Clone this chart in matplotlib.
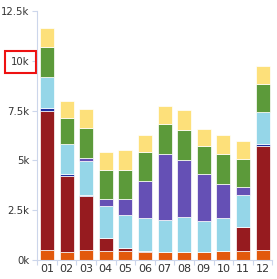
import numpy as np
import matplotlib
matplotlib.use('Agg')
import matplotlib.pyplot as plt

months = ['01', '02', '03', '04', '05', '06', '07', '08', '09', '10', '11', '12']

# stacked series, bottom to top (values in units)
orange = [500, 390, 490, 440, 450, 400, 390, 390, 390, 450, 450, 490]
darkred = [6990, 3850, 2710, 650, 150, 70, 0, 0, 0, 0, 1190, 5240]
navy = [160, 100, 70, 0, 0, 0, 0, 0, 0, 0, 0, 110]
lightblue = [1530, 1490, 1720, 1610, 1660, 1660, 1600, 1760, 1550, 1650, 1630, 1580]
purple = [0, 0, 150, 370, 810, 1830, 3340, 2880, 2400, 1720, 410, 0]
green = [1510, 1320, 1510, 1450, 1470, 1450, 1490, 1490, 1400, 1520, 1380, 1440]
yellow = [950, 850, 950, 890, 1000, 890, 910, 1000, 860, 940, 920, 900]

series = [orange, darkred, navy, lightblue, purple, green, yellow]
colors = ['#E2590C', '#961B1F', '#1F2FA0', '#95D6E8', '#6550B5', '#5C9A3A', '#FDE07A']

ytick_vals = [0, 2500, 5000, 7500, 10000, 12500]
ytick_labels = ['0k', '2.5k', '5k', '7.5k', '10k', '12.5k']

fig = plt.figure(figsize=(2.77, 2.79), dpi=100)
ax = fig.add_axes([0.1343, 0.0681, 0.8491, 0.8925])

x = np.arange(len(months))
bottom = np.zeros(len(months))
for vals, col in zip(series, colors):
    vals = np.array(vals, dtype=float)
    ax.bar(x, vals, bottom=bottom, width=0.72, color=col,
           edgecolor='white', linewidth=0.5)
    bottom += vals

ax.set_xlim(-0.5, len(months) - 0.5)
ax.set_ylim(0, 12500)

ax.spines['top'].set_visible(False)
ax.spines['right'].set_visible(False)
ax.spines['left'].set_color('#ccd6eb')
ax.spines['bottom'].set_color('#ccd6eb')

ax.set_yticks(ytick_vals)
ax.set_yticklabels(ytick_labels)
ax.tick_params(axis='y', length=3.6, width=0.8, color='#ccd6eb',
               labelsize=7.3, labelcolor='#333333', pad=2)

ax.set_xticks(x)
ax.set_xticklabels(months)
ax.set_xticks(np.arange(len(months) + 1) - 0.5, minor=True)
ax.tick_params(axis='x', which='major', length=0, labelsize=8,
               labelcolor='#333333', pad=3)
ax.tick_params(axis='x', which='minor', length=3.6, width=0.8, color='#ccd6eb')

# red box around the 10k label
fig.canvas.draw()
for lab in ax.get_yticklabels():
    if lab.get_text() == '10k':
        lab.set_bbox(dict(boxstyle='square,pad=0.6', facecolor='none',
                          edgecolor='#ee1111', linewidth=1.5))

fig.savefig('out.png', dpi=100)
